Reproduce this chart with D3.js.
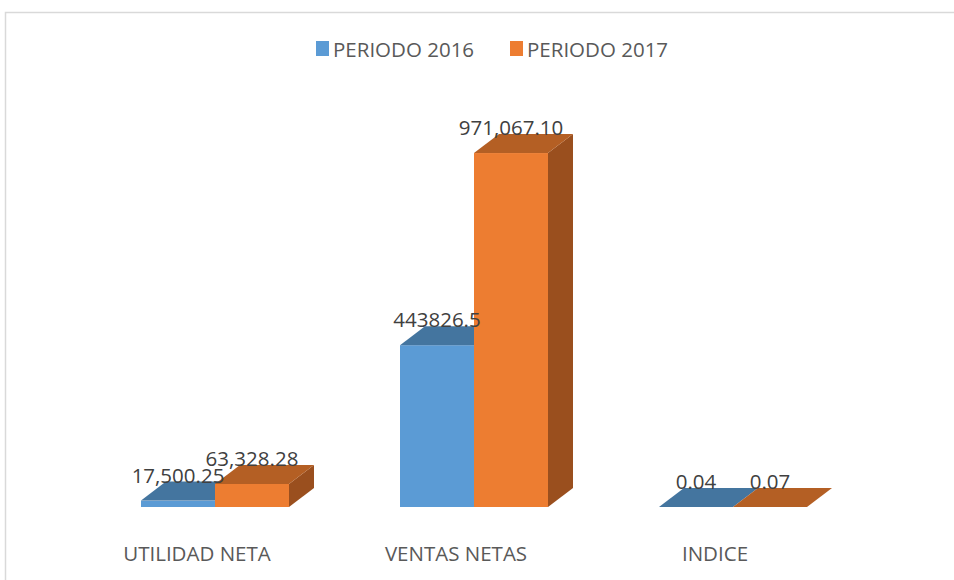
<!DOCTYPE html>
<html><head><meta charset="utf-8">
<script src="https://cdn.jsdelivr.net/npm/d3@7"></script>
<style>body{margin:0;background:#fff}svg{display:block}</style>
</head><body>
<script>
const categories = ["UTILIDAD NETA", "VENTAS NETAS", "INDICE"];
const seriesNames = ["PERIODO 2016", "PERIODO 2017"];
const values2016 = [17500.25, 443826.5, 0.04];
const values2017 = [63328.28, 971067.10, 0.07];
const labels2016 = ["17,500.25", "443826.5", "0.04"];
const labels2017 = ["63,328.28", "971,067.10", "0.07"];

const W = 954, H = 580;
const svg = d3.select("body").append("svg").attr("width", W).attr("height", H);
svg.append("rect").attr("x", 5.5).attr("y", 12.5).attr("width", 1000).attr("height", 700)
  .attr("fill", "#fff").attr("stroke", "#d9d9d9").attr("stroke-width", 1.5);

const colors = [
  {front: "#5b9bd5", top: "#44759f", side: "#3a6690"},
  {front: "#ed7d31", top: "#b45f24", side: "#9a4f1e"}
];
const dx = 25, dy = -19;
const x0 = d3.scaleBand().domain(categories).range([85.5, 862.5]).paddingInner(0.4286).paddingOuter(0.2143);
const x1 = d3.scaleBand().domain(seriesNames).range([0, x0.bandwidth()]);
const y = d3.scaleLinear().domain([0, 1000000]).range([507, 142.5]);

const data = [];
categories.forEach((c, i) => {
  data.push({c, s: seriesNames[0], v: values2016[i], lab: labels2016[i], k: 0});
  data.push({c, s: seriesNames[1], v: values2017[i], lab: labels2017[i], k: 1});
});

const g = svg.append("g");
data.forEach(d => {
  const xl = x0(d.c) + x1(d.s), xr = xl + x1.bandwidth();
  const yb = y(0), yt = y(d.v);
  const col = colors[d.k];
  if (yb - yt > 0.5) {
    g.append("path").attr("d", `M${xr},${yb}L${xr+dx},${yb+dy}L${xr+dx},${yt+dy}L${xr},${yt}Z`).attr("fill", col.side);
  }
  g.append("rect").attr("x", xl).attr("y", yt).attr("width", xr - xl).attr("height", yb - yt).attr("fill", col.front);
  g.append("path").attr("d", `M${xl},${yt}L${xr},${yt}L${xr+dx},${yt+dy}L${xl+dx},${yt+dy}Z`).attr("fill", col.top);
});
data.forEach(d => {
  const xl = x0(d.c) + x1(d.s);
  svg.append("text").attr("x", xl + x1.bandwidth() / 2).attr("y", y(d.v) + dy + 1)
    .attr("text-anchor", "middle").attr("font-family", "Open Sans").attr("font-size", 20.5)
    .attr("fill", "#404040").text(d.lab);
});
categories.forEach(c => {
  svg.append("text").attr("x", x0(c) + x0.bandwidth() / 2 - 18).attr("y", 561)
    .attr("text-anchor", "middle").attr("font-family", "Open Sans").attr("font-size", 20.5)
    .attr("fill", "#595959").text(c);
});
const leg = [{x: 316, name: seriesNames[0], c: colors[0].front}, {x: 510, name: seriesNames[1], c: colors[1].front}];
leg.forEach(l => {
  svg.append("rect").attr("x", l.x).attr("y", 41).attr("width", 13).attr("height", 15).attr("fill", l.c);
  svg.append("text").attr("x", l.x + 17).attr("y", 57).attr("font-family", "Open Sans").attr("font-size", 20.5)
    .attr("fill", "#595959").text(l.name);
});
</script>
</body></html>
